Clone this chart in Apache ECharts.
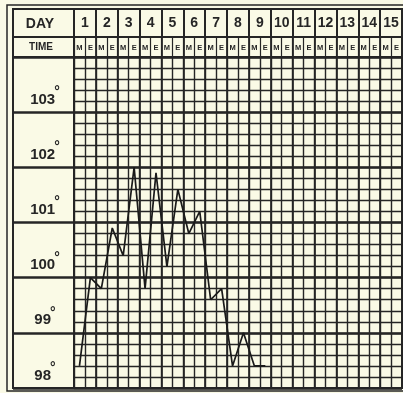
<!DOCTYPE html>
<html>
<head>
<meta charset="utf-8">
<script src="https://cdn.jsdelivr.net/npm/echarts@6/dist/echarts.min.js"></script>
<style>
  html, body { margin: 0; padding: 0; background: #fafae6; }
  #chart { width: 403px; height: 393px; }
</style>
</head>
<body>
<div id="chart"></div>
<script>
// day columns, morning / evening readings, temperatures (°F)
const days  = ['1','2','3','4','5','6','7','8','9','10','11','12','13','14','15']
const times = days.flatMap(() => ['M', 'E'])
const temps = [98.4, 100.0, 99.8, 100.9, 100.4, 102.0, 99.8, 101.9, 100.2, 101.6,
               100.8, 101.2, 99.6, 99.8, 98.4, 99.0, 98.4, 98.4,
               null, null, null, null, null, null, null, null, null, null, null, null]
const degMin = 98
const degMax = 104

const INK  = '#262626'
const FONT = 'Liberation Sans'

const hiddenAxis = { axisLine: { show: false }, axisTick: { show: false }, axisLabel: { show: false } }
const vLines = (w) => ({ show: true, interval: 0, lineStyle: { color: INK, width: w } })
const hLines = (w) => ({ show: true, lineStyle: { color: INK, width: w } })

const chart = echarts.init(document.getElementById('chart'), null, { renderer: 'canvas' })

chart.setOption({
  backgroundColor: '#fafae6',
  animation: false,
  grid: [
    { left: 74, right: 1, top: 57, bottom: 5, show: true, borderColor: INK, borderWidth: 2 },   // chart
    { left: 74, right: 1, top: 9, height: 28, show: true, borderColor: INK, borderWidth: 2 },   // DAY row
    { left: 74, right: 1, top: 37, height: 20, show: true, borderColor: INK, borderWidth: 2 },  // TIME row
    { left: 13, width: 61, top: 57, bottom: 5, show: true, borderColor: INK, borderWidth: 2 },  // degree column
  ],
  xAxis: [
    { gridIndex: 0, type: 'category', data: times, boundaryGap: true, ...hiddenAxis, splitLine: vLines(1.4) },
    { gridIndex: 0, type: 'category', data: days, boundaryGap: true, ...hiddenAxis, splitLine: vLines(1.7) },
    { gridIndex: 1, type: 'category', data: days, boundaryGap: true,
      axisLine: { show: false }, axisTick: { show: false },
      axisLabel: { inside: true, interval: 0, margin: 14, verticalAlign: 'middle',
        color: INK, fontFamily: FONT, fontWeight: 'bold', fontSize: 14 },
      splitLine: vLines(2) },
    { gridIndex: 2, type: 'category', data: times, boundaryGap: true,
      axisLine: { show: false }, axisTick: { show: false },
      axisLabel: { inside: true, interval: 0, margin: 9, verticalAlign: 'middle',
        color: INK, fontFamily: FONT, fontWeight: 'bold', fontSize: 7.5 },
      splitLine: vLines(1.2) },
    { gridIndex: 2, type: 'category', data: days, boundaryGap: true, ...hiddenAxis, splitLine: vLines(1.8) },
    { gridIndex: 3, type: 'value', show: false },
  ],
  yAxis: [
    { gridIndex: 0, type: 'value', min: degMin, max: degMax, interval: 0.2, ...hiddenAxis, splitLine: hLines(1.4) },
    { gridIndex: 0, type: 'value', min: degMin, max: degMax, interval: 1, ...hiddenAxis, splitLine: hLines(2.6) },
    { gridIndex: 1, type: 'value', show: false },
    { gridIndex: 2, type: 'value', show: false },
    { gridIndex: 3, type: 'value', min: degMin, max: degMax, interval: 1,
      axisLine: { show: false }, axisTick: { show: false },
      splitLine: hLines(2.6),
      axisLabel: {
        inside: true, margin: 32, align: 'center', verticalAlign: 'bottom', padding: [0, 0, 5, 0],
        formatter: v => v >= degMax ? '' : `{n|${v}}{d|°}`,
        rich: {
          n: { fontFamily: FONT, fontWeight: 'bold', fontSize: 15, color: INK, lineHeight: 22, verticalAlign: 'bottom' },
          d: { fontFamily: FONT, fontWeight: 'bold', fontSize: 14, color: INK, lineHeight: 12, verticalAlign: 'top', padding: [0, 0, 0, -1] },
        },
      } },
  ],
  graphic: [
    { type: 'rect', shape: { x: 7, y: 5, width: 400, height: 386 }, style: { fill: null, stroke: INK, lineWidth: 1.5 }, silent: true },
    { type: 'rect', shape: { x: 13, y: 9, width: 61, height: 28 }, style: { fill: null, stroke: INK, lineWidth: 2 }, silent: true },
    { type: 'rect', shape: { x: 13, y: 37, width: 61, height: 20 }, style: { fill: null, stroke: INK, lineWidth: 2 }, silent: true },
    { type: 'text', x: 40, y: 24, style: { text: 'DAY', fill: INK, font: `bold 14px "${FONT}"`, align: 'center', verticalAlign: 'middle' }, silent: true },
    { type: 'text', x: 41, y: 47, style: { text: 'TIME', fill: INK, font: `bold 10px "${FONT}"`, align: 'center', verticalAlign: 'middle' }, silent: true },
  ],
  series: [{
    type: 'line', xAxisIndex: 0, yAxisIndex: 0, data: temps,
    symbol: 'none', connectNulls: false,
    lineStyle: { color: '#1a1a1a', width: 1.7 },
  }],
})
</script>
</body>
</html>
